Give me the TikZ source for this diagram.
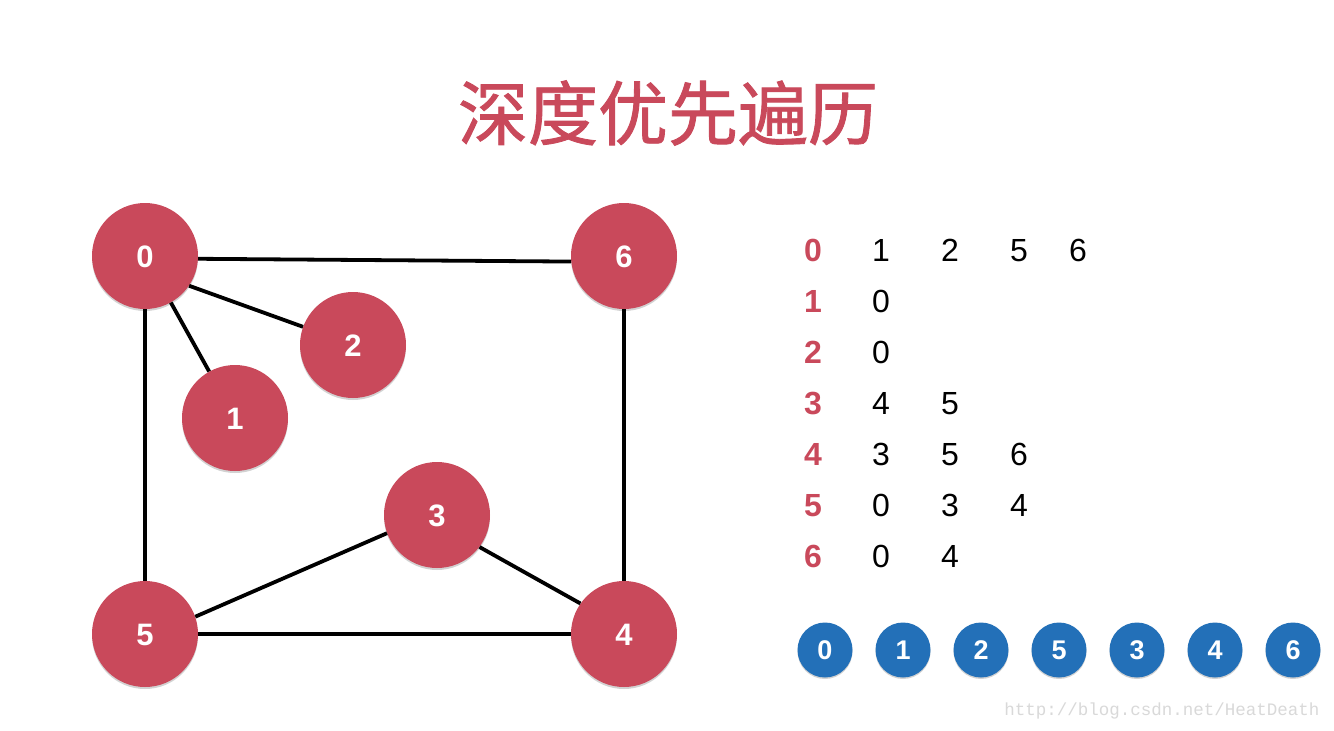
\documentclass[tikz,border=0pt]{standalone}
\usepackage{fontspec}
\setmainfont{Liberation Sans}
\newfontfamily\cjk[FakeBold=1.2]{Noto Sans CJK SC}
\newfontfamily\wmfont{Liberation Mono}
\usetikzlibrary{shadows}
\definecolor{vred}{HTML}{C9495B}
\definecolor{vblue}{HTML}{2370B8}
\definecolor{wmgray}{HTML}{D9D9D9}
\begin{document}
\begin{tikzpicture}[x=1pt,y=-1pt,
  vtx/.style={circle,fill=vred,minimum size=106pt,inner sep=0pt,text=white,
    font=\fontsize{31}{31}\selectfont\bfseries,text height=22pt,text depth=0pt,
    drop shadow={shadow xshift=0pt,shadow yshift=-2pt,opacity=0.35}},
  ord/.style={circle,fill=vblue,minimum size=55pt,inner sep=0pt,text=white,
    font=\fontsize{27}{27}\selectfont\bfseries,text height=19pt,text depth=0pt,
    drop shadow={shadow xshift=0pt,shadow yshift=-1.5pt,opacity=0.35}},
  edge/.style={line width=3.8pt,black},
  hd/.style={text=vred,font=\fontsize{32}{32}\selectfont\bfseries,text height=23pt,text depth=0pt},
  nb/.style={text=black,font=\fontsize{32}{32}\selectfont,text height=23pt,text depth=0pt}]
\useasboundingbox (0,0) rectangle (1334,731);
\fill[white] (0,0) rectangle (1334,731);
% title
\node[text=vred,font=\cjk\fontsize{70}{70}\selectfont] (title) at (668,113) {深度优先遍历};
% vertices
\node[vtx] (v0) at (145,256) {0};
\node[vtx] (v6) at (624,256) {6};
\node[vtx] (v2) at (353,345) {2};
\node[vtx] (v1) at (235,418) {1};
\node[vtx] (v3) at (437,515) {3};
\node[vtx] (v5) at (145,634) {5};
\node[vtx] (v4) at (624,634) {4};
% edges
\draw[edge] (v0.-3) -- (v6.186);
\draw[edge] (v0) -- (v1);
\draw[edge] (v0.-34) -- (v2.160);
\draw[edge] (v0) -- (v5);
\draw[edge] (v6) -- (v4);
\draw[edge] (v5) -- (v4);
\draw[edge] (v3.-160) -- (v5.19);
\draw[edge] (v3.-37) -- (v4.145);
% adjacency list
\node[hd] (h0) at (813,250) {0};
\node[hd] (h1) at (813,301) {1};
\node[hd] (h2) at (813,352) {2};
\node[hd] (h3) at (813,403) {3};
\node[hd] (h4) at (813,454) {4};
\node[hd] (h5) at (813,505) {5};
\node[hd] (h6) at (813,556) {6};
\node[nb] (a01) at (881,250) {1};
\node[nb] (a02) at (950,250) {2};
\node[nb] (a03) at (1019,250) {5};
\node[nb] (a04) at (1078,250) {6};
\node[nb] (a11) at (881,301) {0};
\node[nb] (a21) at (881,352) {0};
\node[nb] (a31) at (881,403) {4};
\node[nb] (a32) at (950,403) {5};
\node[nb] (a41) at (881,454) {3};
\node[nb] (a42) at (950,454) {5};
\node[nb] (a43) at (1019,454) {6};
\node[nb] (a51) at (881,505) {0};
\node[nb] (a52) at (950,505) {3};
\node[nb] (a53) at (1019,505) {4};
\node[nb] (a61) at (881,556) {0};
\node[nb] (a62) at (950,556) {4};
% traversal order
\node[ord] (o1) at (825,650) {0};
\node[ord] (o2) at (903,650) {1};
\node[ord] (o3) at (981,650) {2};
\node[ord] (o4) at (1059,650) {5};
\node[ord] (o5) at (1137,650) {3};
\node[ord] (o6) at (1215,650) {4};
\node[ord] (o7) at (1293,650) {6};
% watermark
\node[text=wmgray,font=\wmfont\fontsize{17.5}{17.5}\selectfont,anchor=east] (wm) at (1323,711) {http://blog.csdn.net/HeatDeath};
\end{tikzpicture}
\end{document}
